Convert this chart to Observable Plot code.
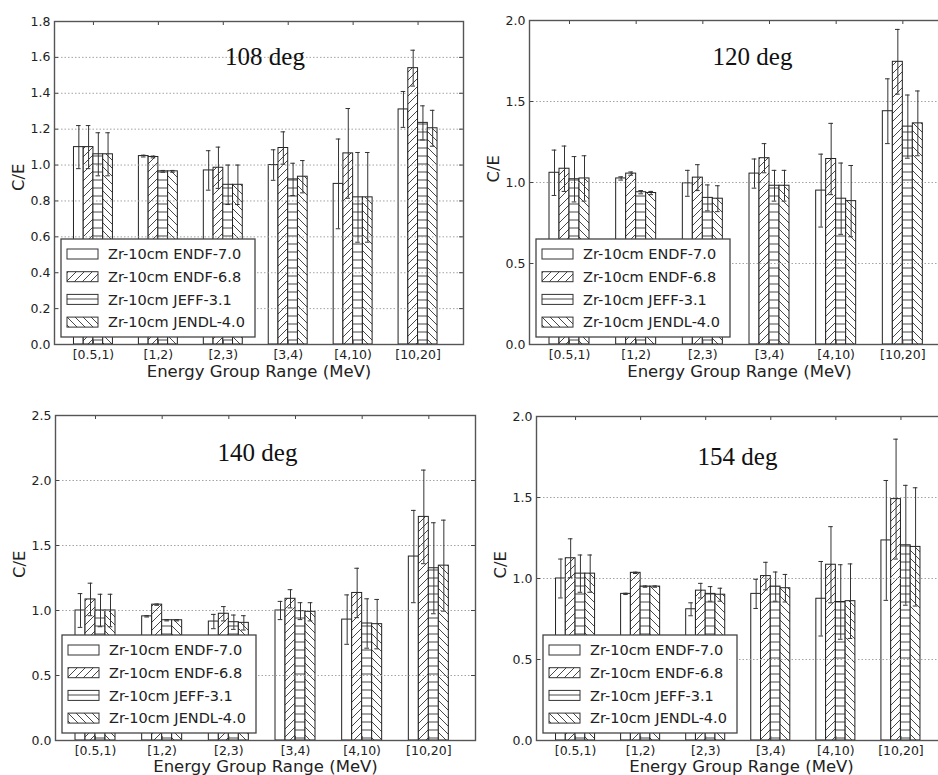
<!DOCTYPE html>
<html><head><meta charset="utf-8">
<script src="https://cdn.jsdelivr.net/npm/d3@7"></script>
<script src="https://cdn.jsdelivr.net/npm/@observablehq/plot@0.6"></script>
<style>
body{margin:0;background:#fff;}
#root{position:relative;width:938px;height:775px;overflow:hidden;background:#fff;}
.panel{position:absolute;}
.panel svg{max-width:none !important;overflow:visible;background:none !important;}
</style></head><body><div id="root"></div>
<script>
// ---------- data ----------
const groups = ["[0.5,1)", "[1,2)", "[2,3)", "[3,4)", "[4,10)", "[10,20]"];
const series = ["Zr-10cm ENDF-7.0", "Zr-10cm ENDF-6.8", "Zr-10cm JEFF-3.1", "Zr-10cm JENDL-4.0"];
const angles = ["108 deg", "120 deg", "140 deg", "154 deg"];

// C/E values: rows = series (ENDF-7.0, ENDF-6.8, JEFF-3.1, JENDL-4.0), columns = groups
const ce108 = [
  [1.10, 1.05, 0.97, 1.00, 0.895, 1.31],
  [1.10, 1.045, 0.985, 1.095, 1.065, 1.54],
  [1.06, 0.965, 0.89, 0.92, 0.82, 1.235],
  [1.06, 0.965, 0.89, 0.935, 0.82, 1.205]
];
const err108 = [
  [0.12, 0.005, 0.11, 0.085, 0.25, 0.10],
  [0.12, 0.005, 0.115, 0.09, 0.25, 0.10],
  [0.12, 0.005, 0.11, 0.09, 0.25, 0.095],
  [0.12, 0.005, 0.11, 0.09, 0.25, 0.10]
];
const ce120 = [
  [1.06, 1.025, 0.995, 1.055, 0.95, 1.44],
  [1.085, 1.055, 1.03, 1.15, 1.145, 1.745],
  [1.02, 0.94, 0.905, 0.98, 0.90, 1.345],
  [1.025, 0.935, 0.90, 0.98, 0.885, 1.365]
];
const err120 = [
  [0.14, 0.01, 0.08, 0.09, 0.225, 0.20],
  [0.14, 0.01, 0.08, 0.09, 0.22, 0.20],
  [0.14, 0.01, 0.08, 0.095, 0.22, 0.195],
  [0.14, 0.01, 0.08, 0.095, 0.22, 0.20]
];
const ce140 = [
  [1.0, 0.955, 0.915, 1.0, 0.93, 1.415],
  [1.085, 1.045, 0.975, 1.09, 1.135, 1.72],
  [1.0, 0.925, 0.91, 0.995, 0.90, 1.325],
  [1.0, 0.925, 0.905, 0.99, 0.895, 1.345]
];
const err140 = [
  [0.13, 0.005, 0.055, 0.07, 0.19, 0.355],
  [0.125, 0.005, 0.055, 0.07, 0.19, 0.36],
  [0.125, 0.005, 0.055, 0.065, 0.19, 0.35],
  [0.125, 0.005, 0.055, 0.07, 0.19, 0.35]
];
const ce154 = [
  [1.0, 0.905, 0.81, 0.905, 0.875, 1.235],
  [1.125, 1.035, 0.925, 1.015, 1.085, 1.49],
  [1.03, 0.95, 0.905, 0.95, 0.855, 1.205],
  [1.03, 0.95, 0.90, 0.94, 0.86, 1.195]
];
const err154 = [
  [0.12, 0.004, 0.04, 0.09, 0.23, 0.37],
  [0.12, 0.004, 0.045, 0.085, 0.235, 0.37],
  [0.115, 0.004, 0.045, 0.09, 0.23, 0.37],
  [0.115, 0.004, 0.04, 0.085, 0.23, 0.365]
];

const yTicks108 = [0.0, 0.2, 0.4, 0.6, 0.8, 1.0, 1.2, 1.4, 1.6, 1.8];
const yTicks120 = [0.0, 0.5, 1.0, 1.5, 2.0];
const yTicks140 = [0.0, 0.5, 1.0, 1.5, 2.0, 2.5];
const yTicks154 = [0.0, 0.5, 1.0, 1.5, 2.0];

const xLabel = "Energy Group Range (MeV)";
const yLabel = "C/E";

// ---------- layout (positions / styles only) ----------
const barWidth = 0.15;
const panels = [
  {ce: ce108, err: err108, ticks: yTicks108, title: angles[0], left: 0,   top: 0,   width: 470, height: 390, ml: 54, mr: 7, mt: 21, mb: 46, tdx: 6,  tdy: 26, xdy: 32, ydy: 8},
  {ce: ce120, err: err120, ticks: yTicks120, title: angles[1], left: 470, top: 0,   width: 480, height: 390, ml: 59, mr: 1, mt: 20, mb: 46, tdx: 13, tdy: 27, xdy: 32, ydy: 0},
  {ce: ce140, err: err140, ticks: yTicks140, title: angles[2], left: 0,   top: 390, width: 480, height: 385, ml: 55, mr: 5, mt: 25, mb: 35, tdx: -8, tdy: 28, xdy: 31, ydy: 0},
  {ce: ce154, err: err154, ticks: yTicks154, title: angles[3], left: 470, top: 390, width: 480, height: 385, ml: 66, mr: 4, mt: 26, mb: 35, tdx: -4, tdy: 31, xdy: 31, ydy: 0}
];

const ink = "#222";
const root = document.getElementById("root");

function drawPanel(P, k) {
  const id = "pat" + k;
  const fills = ["white", `url(#${id}-fwd)`, `url(#${id}-hor)`, `url(#${id}-back)`];
  const rows = [];
  series.forEach((s, si) => groups.forEach((g, gi) => {
    const x1 = gi + si * barWidth;
    rows.push({series: s, group: g, v: P.ce[si][gi], e: P.err[si][gi], x1, x2: x1 + barWidth, xc: x1 + barWidth / 2});
  }));
  const xTickPos = groups.map((g, i) => i + 2 * barWidth);
  const plotW = P.width - P.ml - P.mr;
  const plotH = P.height - P.mt - P.mb;
  const yMax = P.ticks[P.ticks.length - 1];
  const cap = 0.035;

  const chart = Plot.plot({
    width: P.width, height: P.height,
    marginLeft: P.ml, marginRight: P.mr, marginTop: P.mt, marginBottom: P.mb,
    style: {fontFamily: "DejaVu Sans", fontSize: "12.5px", color: ink, background: "none", overflow: "visible"},
    x: {domain: [-0.3, 6.0]},
    y: {domain: [0, yMax]},
    color: {type: "ordinal", domain: series, range: fills},
    marks: [
      Plot.rect(rows, {x1: "x1", x2: "x2", y1: 0, y2: "v", fill: "series", stroke: ink, strokeWidth: 1}),
      Plot.ruleY(P.ticks.slice(1, -1), {stroke: "#9a9a9a", strokeWidth: 0.9, strokeDasharray: "1.5,2"}),
      Plot.ruleX(rows, {x: "xc", y1: d => d.v - d.e, y2: d => d.v + d.e, stroke: "#333", strokeWidth: 1}),
      Plot.ruleY(rows, {y: d => d.v + d.e, x1: d => d.xc - cap, x2: d => d.xc + cap, stroke: "#333", strokeWidth: 1}),
      Plot.ruleY(rows, {y: d => d.v - d.e, x1: d => d.xc - cap, x2: d => d.xc + cap, stroke: "#333", strokeWidth: 1}),
      // inward tick marks on all four sides
      Plot.ruleY(P.ticks, {insetRight: plotW - 4, stroke: "#444"}),
      Plot.ruleY(P.ticks, {insetLeft: plotW - 4, stroke: "#444"}),
      Plot.ruleX(xTickPos, {insetTop: plotH - 4, stroke: "#444"}),
      Plot.ruleX(xTickPos, {insetBottom: plotH - 4, stroke: "#444"}),
      Plot.frame({stroke: "#555", strokeWidth: 1.4}),
      Plot.axisY({ticks: P.ticks, tickSize: 0, tickPadding: 4, tickFormat: d3.format(".1f"), label: null, fontSize: 12.5}),
      Plot.axisX({ticks: xTickPos, tickSize: 0, tickPadding: 6, tickFormat: d => groups[Math.round(d - 2 * barWidth)], label: null, fontSize: 12.5}),
      Plot.text([P.title], {text: d => d, frameAnchor: "top", dx: P.tdx, dy: P.tdy, fontSize: 25, fontFamily: "Liberation Serif", fill: "#111"}),
      Plot.text([xLabel], {text: d => d, frameAnchor: "bottom", dy: P.xdy, fontSize: 16.5, fill: ink}),
      Plot.text([yLabel], {text: d => d, frameAnchor: "left", dx: -36, dy: P.ydy, rotate: -90, fontSize: 16.5, fill: ink})
    ]
  });

  // hatch patterns
  const svg = d3.select(chart);
  const defs = svg.insert("defs", ":first-child");
  const mk = (name, d) => {
    const p = defs.append("pattern").attr("id", `${id}-${name}`).attr("patternUnits", "userSpaceOnUse")
      .attr("width", 8).attr("height", 8);
    p.append("rect").attr("width", 8).attr("height", 8).attr("fill", "white");
    p.append("path").attr("d", d).attr("stroke", "#333").attr("stroke-width", 0.9).attr("fill", "none");
  };
  mk("fwd", "M0,8L8,0M-2,2L2,-2M6,10L10,6");
  mk("hor", "M0,4L8,4");
  mk("back", "M0,0L8,8M-2,6L2,10M6,-2L10,2");

  // legend (inside plot area, lower left)
  const lw = 194, lh = 98;
  const g = svg.append("g").attr("transform", `translate(${P.ml + 7},${P.height - P.mb - 7 - lh})`);
  g.append("rect").attr("width", lw).attr("height", lh).attr("fill", "white").attr("stroke", "#444").attr("stroke-width", 1.3);
  series.forEach((s, i) => {
    const yy = 15 + i * 22.7;
    g.append("rect").attr("x", 6).attr("y", yy - 5).attr("width", 31).attr("height", 10)
      .attr("fill", fills[i]).attr("stroke", "#333").attr("stroke-width", 1);
    g.append("text").attr("x", 47).attr("y", yy).attr("dy", "0.36em").attr("text-anchor", "start")
      .attr("font-family", "DejaVu Sans").attr("font-size", 14.5).attr("fill", ink).text(s);
  });

  const div = document.createElement("div");
  div.className = "panel";
  div.style.left = P.left + "px";
  div.style.top = P.top + "px";
  div.style.width = P.width + "px";
  div.appendChild(chart);
  root.appendChild(div);
}

panels.forEach(drawPanel);
</script>
</body></html>
